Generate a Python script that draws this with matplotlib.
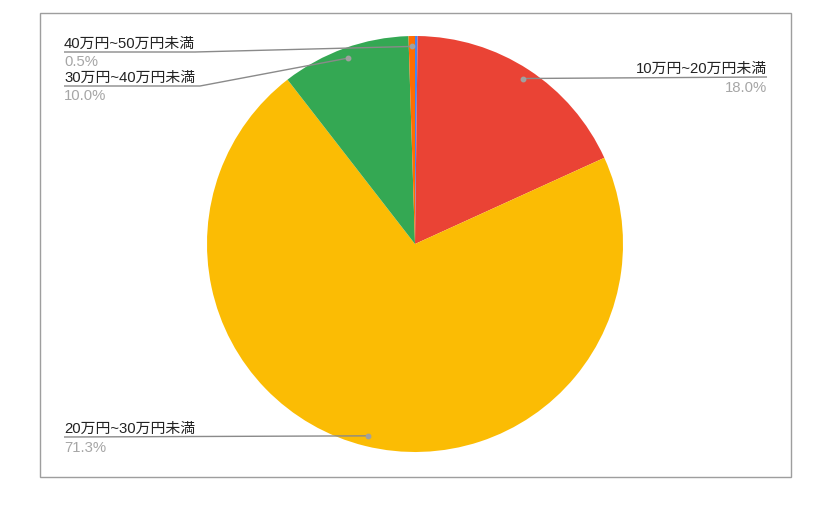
import numpy as np
import matplotlib
matplotlib.use("Agg")
import matplotlib.pyplot as plt
from matplotlib.patches import Rectangle

plt.rcParams["font.family"] = ["Liberation Sans", "Noto Sans CJK JP", "DejaVu Sans"]

# データ（12時の位置から時計回り）
categories = ["10万円未満", "10万円~20万円未満", "20万円~30万円未満",
              "30万円~40万円未満", "40万円~50万円未満"]
shares = [0.2, 18.0, 71.3, 10.0, 0.5]
pct_labels = ["", "18.0%", "71.3%", "10.0%", "0.5%"]
colors = ["#4285F4", "#EA4335", "#FBBC04", "#34A853", "#FF6D01"]

W, H = 823, 508
CX, CY, R = 415, 244, 208


def d(px, py):
    # ピクセル座標 -> 円グラフ軸のデータ座標
    return (px - CX) / R, (CY - py) / R


fig = plt.figure(figsize=(W / 100, H / 100), dpi=100)
fig.patches.append(Rectangle((40 / W, 1 - 477 / H), 751 / W, 464 / H,
                             transform=fig.transFigure, fill=False,
                             edgecolor="#9e9e9e", lw=1.0))

ax = fig.add_axes([(CX - R) / W, (H - CY - R) / H, 2 * R / W, 2 * R / H])
wedges, _ = ax.pie(shares, colors=colors, startangle=90, counterclock=False,
                   radius=1, wedgeprops=dict(linewidth=0))
ax.set_xlim(-1, 1)
ax.set_ylim(-1, 1)
ax.set_aspect("equal")
ax.axis("off")

line_c = "#8a8a8a"
name_c = "#222222"
pct_c = "#a6a6a6"
fs = 10.7

# ラベル配置: (インデックス, 下線の端x, 下線y, 折れ点x, 揃え)
layout = [
    (1, 767, 77, None, "right"),
    (2, 64, 437, None, "left"),
    (3, 64, 86, 200, "left"),
    (4, 64, 52, 195, "left"),
]

for i, lx, ly, ex, ha in layout:
    w = wedges[i]
    mid = np.deg2rad((w.theta1 + w.theta2) / 2)
    px, py = 0.95 * np.cos(mid), 0.95 * np.sin(mid)
    x0, y0 = d(lx, ly)
    if ex is None:
        xs, ys = [x0, px], [y0, py]
    else:
        xe, ye = d(ex, ly)
        xs, ys = [x0, xe, px], [y0, ye, py]
    ax.plot(xs, ys, color=line_c, lw=1.0, clip_on=False, solid_capstyle="butt")
    ax.plot([px], [py], "o", ms=3.2, color="#a0a0a0", clip_on=False)
    ax.text(x0, y0 + 1 / R, categories[i], ha=ha, va="bottom", fontsize=fs,
            color=name_c, clip_on=False)
    ax.text(x0, y0 - 3.5 / R, pct_labels[i], ha=ha, va="top", fontsize=fs,
            color=pct_c, clip_on=False)

fig.savefig("out.png", dpi=100)
